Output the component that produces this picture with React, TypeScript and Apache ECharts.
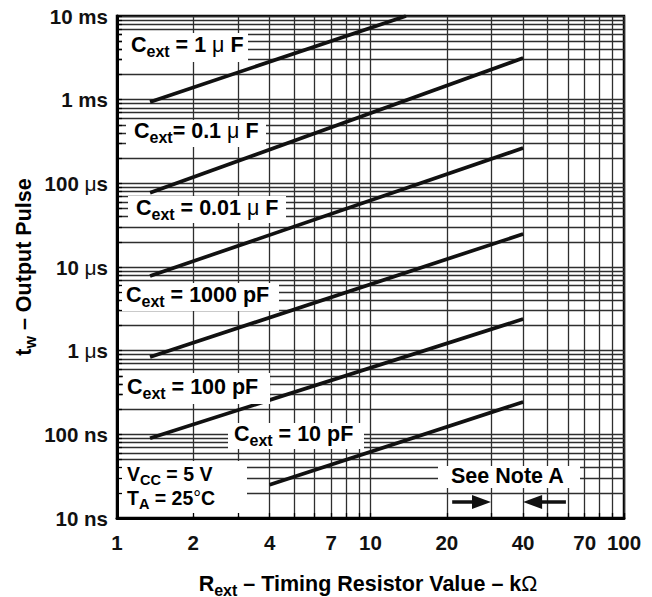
import React, { useEffect, useRef } from "react";
import * as echarts from "echarts";

// ---- data (x: Rext in kΩ, y: tw in ns) ----
const xTickLabels = [1, 2, 4, 7, 10, 20, 40, 70, 100];
const xGridValues = [1, 2, 3, 4, 5, 6, 7, 8, 9, 10, 20, 30, 40, 50, 60, 70, 80, 90, 100];
const yDecades = [10, 100, 1000, 10000, 100000, 1000000, 10000000];
const yDecadeLabels = ["10 ns", "100 ns", "1 μs", "10 μs", "100 μs", "1 ms", "10 ms"];
const yMantissas = [1, 2, 3, 4, 5, 6, 7, 8, 9];

const seriesNames = ["Cext = 1 μF", "Cext = 0.1 μF", "Cext = 0.01 μF", "Cext = 1000 pF", "Cext = 100 pF", "Cext = 10 pF"];
const c1uF = [[1.35, 940000], [13.8, 10000000]];
const c100nF = [[1.35, 77000], [40, 3150000]];
const c10nF = [[1.35, 7800], [40, 264000]];
const c1000pF = [[1.35, 840], [40, 24800]];
const c100pF = [[1.35, 90], [40, 2390]];
const c10pF = [[4, 25], [40, 244]];
const seriesData = [c1uF, c100nF, c10nF, c1000pF, c100pF, c10pF];

// "See Note A" arrows: pointing at 30 kΩ and 40 kΩ
const noteArrowY = 15.5;
const noteArrowRight = [[21, noteArrowY], [27.4, noteArrowY]];
const noteArrowLeft = [[59, noteArrowY], [43.6, noteArrowY]];

const yGridValues = yDecades.slice(0, -1).flatMap((d) => yMantissas.map((m) => m * d)).concat([10000000]);

const FONT = "'Liberation Sans', Arial, Helvetica, sans-serif";
const INK = "#111";

const rich = {
  m: { fontSize: 21.5, fontWeight: "bold", fontFamily: FONT, color: INK, lineHeight: 21 },
  s: { fontSize: 16, fontWeight: "bold", fontFamily: FONT, color: INK, lineHeight: 9, padding: [12, 0, 0, 0] },
  u: { fontSize: 21.5, fontWeight: "normal", fontFamily: FONT, color: INK, lineHeight: 21 },
};
const richSmall = {
  m: { fontSize: 19.5, fontWeight: "bold", fontFamily: FONT, color: INK, lineHeight: 20 },
  s: { fontSize: 14.5, fontWeight: "bold", fontFamily: FONT, color: INK, lineHeight: 9, padding: [11, 0, 0, 0] },
  u: { fontSize: 19.5, fontWeight: "normal", fontFamily: FONT, color: INK, lineHeight: 20 },
};

function richText(label: string) {
  const parts: string[] = [];
  let rest = label;
  const m = rest.match(/^(C)(ext)(.*)$/);
  if (m) {
    parts.push(`{m|${m[1]}}{s|${m[2]}}`);
    rest = m[3];
  }
  rest.split(/(μ|°|Ω)/).forEach((p) => {
    if (!p) return;
    if (p === "μ" || p === "°" || p === "Ω") parts.push(`{u|${p}}`);
    else parts.push(`{m|${p}}`);
  });
  return parts.join("");
}

export default function App() {
  const ref = useRef<HTMLDivElement>(null);
  useEffect(() => {
    if (!ref.current) return;
    const chart = echarts.init(ref.current, undefined, { renderer: "svg" });

    const labelTexts: any[] = [
      { t: "{m|C}{s|ext}{m| = 1 }{u|μ}{m| F}", x: 131, y: 45 },
      { t: "{m|C}{s|ext}{m|= 0.1 }{u|μ}{m| F}", x: 134, y: 131 },
      { t: "{m|C}{s|ext}{m| = 0.01 }{u|μ}{m| F}", x: 136, y: 208 },
      { t: richText(seriesNames[3]), x: 126, y: 295 },
      { t: richText(seriesNames[4]), x: 127, y: 387 },
      { t: richText(seriesNames[5]), x: 234, y: 434 },
      { t: "{m|V}{s|CC}{m| = 5 V}", x: 127, y: 474, r: richSmall },
      { t: "{m|T}{s|A}{m| = 25}{u|°}{m|C}", x: 127, y: 498, r: richSmall },
      { t: "{m|See Note A}", x: 451, y: 476 },
    ];
    const boxes = [
      [122, 33, 126, 29],
      [126, 120, 140, 27],
      [128, 196, 158, 27],
      [120, 283, 159, 28],
      [123, 373, 147, 31],
      [228, 423, 136, 26],
      [119, 461, 128, 55],
      [438, 466, 142, 22],
    ];

    const graphic: any[] = [];
    boxes.forEach((b) =>
      graphic.push({ type: "rect", z: 5, silent: true, shape: { x: b[0], y: b[1], width: b[2], height: b[3] }, style: { fill: "#fff" } })
    );
    labelTexts.forEach((l) =>
      graphic.push({ type: "text", z: 6, silent: true, x: l.x, y: l.y, style: { text: l.t, rich: l.r || rich, verticalAlign: "middle", align: "left" } })
    );
    graphic.push({
      type: "text", z: 6, x: 368, y: 584,
      style: { text: "{m|R}{s|ext}{m| – Timing Resistor Value – k}{u|Ω}", rich, align: "center", verticalAlign: "middle" },
    });
    graphic.push({
      type: "text", z: 6, x: 24, y: 267, rotation: Math.PI / 2,
      style: { text: "{m|t}{s|w}{m| – Output Pulse}", rich, align: "center", verticalAlign: "middle" },
    });

    const gridLine = { show: true, lineStyle: { color: "#2e2e2e", width: 1.3 } };
    const hidden = { show: false };

    const option: any = {
      animation: false,
      backgroundColor: "#fff",
      grid: { left: 117, top: 16, width: 507, height: 502, show: true, borderColor: "#000", borderWidth: 2.5, backgroundColor: "transparent" },
      xAxis: [
        {
          type: "log", logBase: 10, min: 1, max: 100,
          axisLine: hidden,
          axisTick: { show: false, customValues: xGridValues },
          splitLine: gridLine,
          axisLabel: {
            customValues: xTickLabels,
            margin: 14,
            fontSize: 20.5, fontWeight: "bold", fontFamily: FONT, color: INK,
            formatter: (v: number) => String(Math.round(v)),
          },
        },
        {
          type: "log", logBase: 10, min: 1, max: 100, position: "bottom", z: 10,
          axisLine: { show: true, lineStyle: { color: "#000", width: 3 } },
          axisTick: { show: true, inside: true, length: 5, customValues: xGridValues, lineStyle: { color: "#000", width: 1.3 } },
          splitLine: hidden,
          axisLabel: hidden,
        },
      ],
      yAxis: [
        {
          type: "log", logBase: 10, min: 10, max: 10000000,
          axisLine: hidden,
          axisTick: { show: false, customValues: yGridValues },
          splitLine: gridLine,
          axisLabel: {
            customValues: yDecades,
            margin: 9,
            formatter: (v: number) => {
              const i = Math.round(Math.log10(v)) - 1;
              const s = yDecadeLabels[i] || "";
              return s.split(/(μ)/).filter(Boolean).map((p) => (p === "μ" ? `{u|μ}` : `{b|${p}}`)).join("");
            },
            rich: {
              b: { fontSize: 20.5, fontWeight: "bold", fontFamily: FONT, color: INK },
              u: { fontSize: 21, fontWeight: "normal", fontFamily: FONT, color: INK },
            },
          },
        },
        {
          type: "log", logBase: 10, min: 10, max: 10000000, position: "left", z: 10,
          axisLine: { show: true, lineStyle: { color: "#000", width: 3 } },
          axisTick: { show: true, inside: true, length: 5, customValues: yGridValues, lineStyle: { color: "#000", width: 1.3 } },
          splitLine: hidden,
          axisLabel: hidden,
        },
      ],
      series: seriesData.map((d, i) => ({
        name: seriesNames[i],
        type: "line",
        data: d,
        symbol: "none",
        z: 3,
        lineStyle: { color: INK, width: 3.7 },
        ...(i === 5
          ? {
              markLine: {
                silent: true,
                symbol: ["none", "triangle"],
                symbolSize: [1, 14],
                label: { show: false },
                lineStyle: { color: INK, width: 3.5, type: "solid" },
                emphasis: { disabled: true },
                data: [
                  [{ coord: noteArrowRight[0] }, { coord: noteArrowRight[1], symbolSize: [14, 19] }],
                  [{ coord: noteArrowLeft[0] }, { coord: noteArrowLeft[1], symbolSize: [14, 19] }],
                ],
              },
            }
          : {}),
      })),
      graphic,
    };
    chart.setOption(option);
    return () => chart.dispose();
  }, []);
  return <div ref={ref} style={{ position: "absolute", left: 0, top: 0, width: 652, height: 597 }} />;
}
